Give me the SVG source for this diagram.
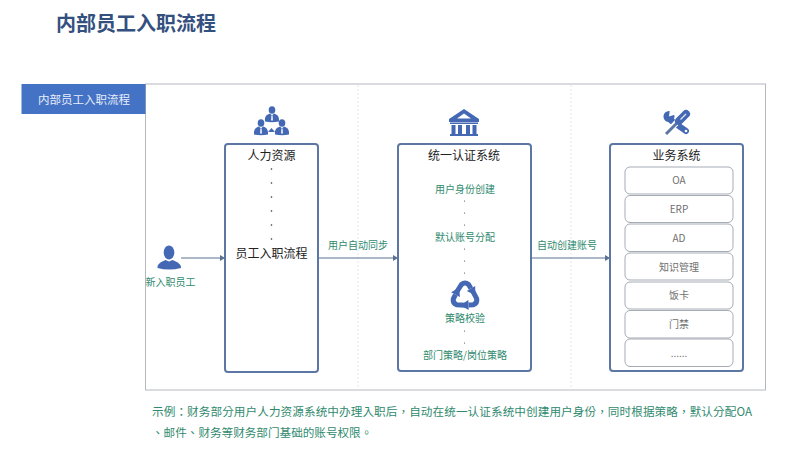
<svg xmlns="http://www.w3.org/2000/svg" width="800" height="450" viewBox="0 0 800 450">
<defs>
<marker id="arr" markerWidth="6" markerHeight="6" refX="5" refY="3" orient="auto" markerUnits="userSpaceOnUse"><path d="M0 0L5 3L0 6Z" fill="#5b7292"/></marker>
<g id="man"><ellipse cx="0" cy="-4" rx="3.300" ry="3.800"/><path d="M-7 7.500C-7.500 2-5 0.500-2 -0.500L0 1.500L2 -0.500C5 0.500 7.500 2 7 7.500Q0 9-7 7.500Z"/><path d="M-0.700 1.500H0.700L1 6L0 7L-1 6Z" fill="#dfe6f5"/></g>
<g id="loop"><path d="M457 291.500L461.500 284.500Q465 281.500 468.500 284.500L471 288.500" fill="none" stroke="#4468b4" stroke-width="5"/><path d="M475.200 285.900L466.800 291.100L475.200 295.300Z"/></g>
</defs>
<style>
text{font-family:"Noto Sans CJK SC","Liberation Sans",sans-serif;text-anchor:middle}
.box{fill:#fff;stroke:#5d77a5;stroke-width:2}
.item{fill:#fff;stroke:#a5acb5;stroke-width:1}
.blk{font-size:12px;fill:#222}
.grn{font-size:10px;fill:#2f8a6e}
.gry{font-size:10px;fill:#6f6f6f}
.ico{fill:#4468b4}
.sep{stroke:#e6e6e6;stroke-width:1;stroke-dasharray:2 2}
</style>
<rect width="800" height="450" fill="#fff"/>
<text x="136" y="31" style="font-size:20px;font-weight:700;fill:#34507f">内部员工入职流程</text>
<rect id="frame" x="145.500" y="84" width="620" height="306" fill="#fff" stroke="#b4b8bd" stroke-width="1"/>
<line class="sep" x1="358" y1="85" x2="358" y2="389"/>
<line class="sep" x1="571" y1="85" x2="571" y2="389"/>
<g id="tab"><rect x="21.500" y="84" width="124" height="30" fill="#4472c4"/><text x="84" y="104" style="font-size:11.500px;fill:#e8eefa">内部员工入职流程</text></g>

<g id="connectors" fill="none" stroke="#5b7292" stroke-width="1">
<line x1="181" y1="258" x2="225" y2="258" marker-end="url(#arr)"/>
<line x1="318" y1="258" x2="398" y2="258" marker-end="url(#arr)"/>
<line x1="531" y1="258" x2="610" y2="258" marker-end="url(#arr)"/>
</g>
<text class="grn" x="358" y="249">用户自动同步</text>
<text class="grn" x="567" y="249">自动创建账号</text>

<g id="new-employee">
<g class="ico"><ellipse cx="169" cy="252.500" rx="5.300" ry="7"/><path d="M157.500 268C157 264 161 262 165.500 260L169 261.500L172.500 260C177 262 181.500 264 181 268Q169 271 157.500 268Z"/></g>
<text class="grn" x="170.500" y="286">新入职员工</text>
</g>

<g id="hr-icon" class="ico">
<use href="#man" x="272" y="114"/><use href="#man" x="261" y="127"/><use href="#man" x="282" y="127"/>
<path d="M271.500 128L275 132H268Z"/>
</g>
<g id="hr">
<rect class="box" x="225" y="144" width="93" height="228" rx="3"/>
<text class="blk" x="271.500" y="160">人力资源</text>
<g fill="#333"><circle cx="271.500" cy="169" r=".8"/><circle cx="271.500" cy="183" r=".8"/><circle cx="271.500" cy="197" r=".8"/><circle cx="271.500" cy="211" r=".8"/><circle cx="271.500" cy="225" r=".8"/><circle cx="271.500" cy="239" r=".8"/></g>
<text class="blk" x="271.500" y="258">员工入职流程</text>
</g>

<g id="bank-icon" class="ico">
<path d="M464 109L479 119V122H449V119ZM464 113.500L457 118.500H471Z" fill-rule="evenodd"/>
<rect x="450" y="122.500" width="28" height="1.500"/>
<rect x="451.500" y="125" width="4" height="9"/><rect x="458" y="125" width="4" height="9"/><rect x="466" y="125" width="4" height="9"/><rect x="472.500" y="125" width="4" height="9"/>
<rect x="450" y="134" width="28" height="2"/>
</g>
<g id="auth">
<rect class="box" x="398" y="144" width="133" height="227" rx="3"/>
<text class="blk" x="464" y="160">统一认证系统</text>
<text class="grn" x="465" y="193">用户身份创建</text>
<text class="grn" x="465" y="241">默认账号分配</text>
<g fill="#444"><circle cx="464.500" cy="201" r=".6"/><circle cx="464.500" cy="213" r=".6"/><circle cx="464.500" cy="225" r=".6"/><circle cx="464.500" cy="249" r=".6"/><circle cx="464.500" cy="261" r=".6"/><circle cx="464.500" cy="273" r=".6"/><circle cx="464.500" cy="331" r=".6"/><circle cx="464.500" cy="343" r=".6"/></g>
<g class="ico" id="recycle-icon">
<use href="#loop"/><use href="#loop" transform="rotate(120 465 296)"/><use href="#loop" transform="rotate(240 465 296)"/>
</g>
<text class="grn" x="465" y="322">策略校验</text>
<text class="grn" x="465" y="359">部门策略/岗位策略</text>
</g>

<g id="tools-icon">
<line x1="671" y1="120.500" x2="686" y2="131" stroke="#4468b4" stroke-width="6" stroke-linecap="round"/>
<circle cx="669" cy="116.500" r="5.500" fill="#4468b4"/>
<path d="M669 116.500L670 109L677 114Z" fill="#fff"/>
<circle cx="686" cy="131" r="1.300" fill="#fff"/>
<line x1="679" y1="120" x2="667" y2="133" stroke="#fff" stroke-width="6"/>
<line x1="678" y1="122" x2="666" y2="134" stroke="#5d77a5" stroke-width="3"/>
<line x1="686" y1="114" x2="679" y2="121" stroke="#4468b4" stroke-width="8" stroke-linecap="round"/>
<line x1="686" y1="114" x2="680.500" y2="119.500" stroke="#dfe6f5" stroke-width="1.200"/>
</g>
<g id="biz">
<rect class="box" x="610" y="144" width="133" height="227" rx="3"/>
<text class="blk" x="676.500" y="160">业务系统</text>
<g id="oa"><rect class="item" x="625" y="167" width="108" height="27" rx="5"/><text class="gry" x="679" y="184">OA</text></g>
<g id="erp"><rect class="item" x="625" y="195.500" width="108" height="27" rx="5"/><text class="gry" x="679" y="213">ERP</text></g>
<g id="ad"><rect class="item" x="625" y="224" width="108" height="27.500" rx="5"/><text class="gry" x="679" y="241.500">AD</text></g>
<g id="km"><rect class="item" x="625" y="253" width="108" height="27" rx="5"/><text class="gry" x="679" y="270.500">知识管理</text></g>
<g id="card"><rect class="item" x="625" y="282" width="108" height="27" rx="5"/><text class="gry" x="679" y="299">饭卡</text></g>
<g id="door"><rect class="item" x="625" y="310.500" width="108" height="27.500" rx="5"/><text class="gry" x="679" y="328">门禁</text></g>
<g id="more"><rect class="item" x="625" y="339" width="108" height="27.500" rx="5"/><text class="gry" x="679" y="357">......</text></g>
</g>
<g style="font-size:11.600px;fill:#2f8a6e">
<text x="152" y="416" textLength="600" lengthAdjust="spacing" style="text-anchor:start;font-family:'Noto Sans CJK TC','Liberation Sans',sans-serif">示例：财务部分用户人力资源系统中办理入职后，自动在统一认证系统中创建用户身份，同时根据策略，默认分配OA</text>
<text x="152" y="437" style="text-anchor:start;font-family:'Noto Sans CJK TC','Liberation Sans',sans-serif">、邮件、财务等财务部门基础的账号权限。</text>
</g>
</svg>
